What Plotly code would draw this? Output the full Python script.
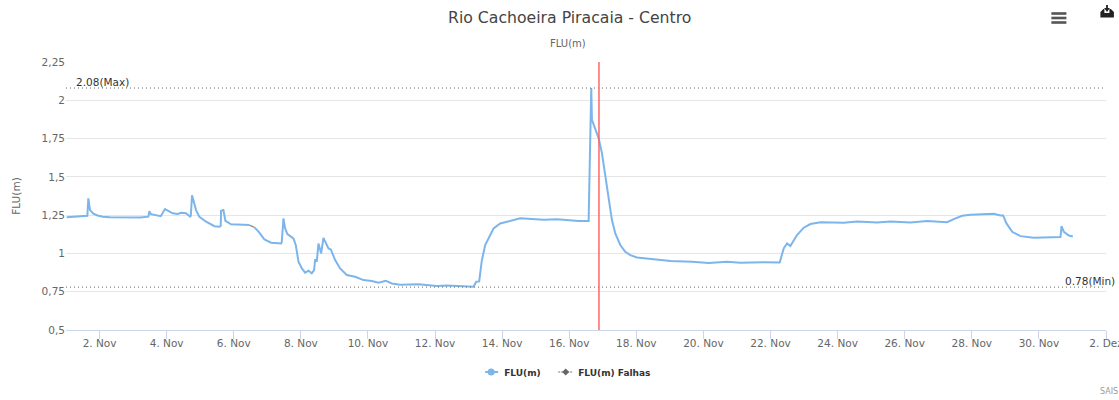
import pandas as pd
import plotly.graph_objects as go

# Day position within the month of November (day 31 = 1 Dec)
days_a = [1.02,1.636,1.666,1.716,1.815,1.94,2.094,2.312,3.207,3.455,3.485,3.535,3.823,3.883,3.952,4.18,4.33,4.43,4.579,4.698,4.72,4.757,4.877,4.976,5.176,5.424,5.573,5.612,5.622,5.692,5.752,5.92,6.467]
flu_a = [1.237,1.246,1.36,1.283,1.26,1.248,1.24,1.237,1.235,1.24,1.276,1.256,1.243,1.27,1.29,1.262,1.258,1.265,1.263,1.24,1.245,1.38,1.283,1.239,1.207,1.178,1.174,1.18,1.278,1.283,1.213,1.19,1.185]
days_b = [6.617,6.746,6.915,7.114,7.412,7.432,7.481,7.531,7.6,7.78,7.85,7.93,8.03,8.127,8.227,8.326,8.396,8.426,8.476,8.525,8.605,8.674,8.823,8.893,9.022,9.171,9.37,9.619,9.867,10.115,10.314,10.533,10.712,10.96,11.507,12.054,12.352,13.147,13.227,13.316,13.396,13.495,13.744,13.942,14.54,15.236,15.634,16.28,16.578,16.657,16.677,16.776,16.876,16.975,17.075,17.174,17.273,17.373,17.522,17.671,17.82,18.019,18.417,19.014,19.66,20.157,20.703,21.101,21.797,22.274,22.393,22.493,22.592,22.791,22.99,23.189,23.487,24.183,24.58,25.177,25.574,26.171,26.668,27.264,27.463,27.712,27.96,28.656,28.855,28.934,29.034,29.203,29.451,29.849,30.644,30.674,30.744,30.893,31.012]
flu_b = [1.17,1.141,1.091,1.07,1.065,1.076,1.228,1.163,1.126,1.098,1.054,0.946,0.902,0.874,0.887,0.87,0.891,0.961,0.946,1.065,1.0,1.102,1.033,1.026,0.957,0.902,0.859,0.848,0.826,0.82,0.809,0.822,0.804,0.796,0.798,0.787,0.791,0.783,0.815,0.817,0.956,1.054,1.163,1.196,1.229,1.22,1.223,1.212,1.212,2.08,1.873,1.819,1.753,1.655,1.502,1.349,1.218,1.131,1.055,1.011,0.989,0.974,0.963,0.95,0.945,0.937,0.945,0.939,0.943,0.941,1.033,1.065,1.048,1.12,1.168,1.192,1.203,1.2,1.209,1.202,1.209,1.202,1.211,1.204,1.224,1.246,1.252,1.259,1.248,1.248,1.196,1.141,1.113,1.102,1.107,1.178,1.141,1.117,1.111]
days_falhas = [6.467, 6.617]
flu_falhas = [1.185, 1.17]

y_ticks = [0.5, 0.75, 1, 1.25, 1.5, 1.75, 2, 2.25]
y_labels = ["0,5", "0,75", "1", "1,25", "1,5", "1,75", "2", "2,25"]
x_tick_days = [2,4,6,8,10,12,14,16,18,20,22,24,26,28,30,32]
x_labels = ["2. Nov","4. Nov","6. Nov","8. Nov","10. Nov","12. Nov","14. Nov","16. Nov","18. Nov","20. Nov","22. Nov","24. Nov","26. Nov","28. Nov","30. Nov","2. Dez"]
max_value = 2.08
min_value = 0.78
marker_day = 16.887

START = pd.Timestamp("2018-10-31")
def to_dates(days):
    return [START + pd.Timedelta(days=float(d)) for d in days]

FONT = "DejaVu Sans"
W, H = 1119, 400
L, R, T, B = 66, 1105.6, 62, 330
def px(x): return (x - L) / (R - L)
def py(y): return (B - y) / (B - T)

fig = go.Figure()
fig.add_trace(go.Scatter(x=to_dates(days_a) + [None] + to_dates(days_b), y=flu_a + [None] + flu_b,
                         mode="lines", line=dict(color="#7cb5ec", width=2), showlegend=False, connectgaps=False))
fig.add_trace(go.Scatter(x=to_dates(days_falhas), y=flu_falhas, mode="lines", showlegend=False,
                         line=dict(color="#a08a80", width=1.5)))
# real legend entries, one legend each so they sit where the reference has them
for nm, lg in (("FLU(m)", "legend"), ("FLU(m) Falhas", "legend2")):
    fig.add_trace(go.Scatter(x=[None], y=[None], mode="lines", name=nm, legend=lg,
                             line=dict(color="rgba(0,0,0,0)", width=1)))

x0, x1 = START + pd.Timedelta(days=1), START + pd.Timedelta(days=32)
DOT = "1px,3px"
shapes = [
    dict(type="line", xref="x", yref="y", x0=x0, x1=x1, y0=max_value, y1=max_value,
         line=dict(color="#666666", width=1, dash=DOT)),
    dict(type="line", xref="x", yref="y", x0=x0, x1=x1, y0=min_value, y1=min_value,
         line=dict(color="#666666", width=1, dash=DOT)),
    dict(type="line", xref="x", yref="paper", x0=to_dates([marker_day])[0], x1=to_dates([marker_day])[0], y0=0, y1=1,
         line=dict(color="#ff6666", width=1.5)),
]
for yy in (13.5, 18, 22.5):
    shapes.append(dict(type="line", xref="paper", yref="paper", x0=px(1051), x1=px(1066), y0=py(yy), y1=py(yy),
                       line=dict(color="#555555", width=2.6)))
def pth(points):
    return "M" + " L".join(f"{px(a):.5f},{py(b):.5f}" for a, b in points) + " Z"
shapes.append(dict(type="path", xref="paper", yref="paper", line=dict(width=0), fillcolor="#222222",
                   path=pth([(1100,17.5),(1100,12),(1103,9),(1104,9),(1104,13),(1109,13),(1109,9),(1110.5,9),(1113.5,12),(1113.5,17.5)])))
shapes.append(dict(type="path", xref="paper", yref="paper", line=dict(width=0), fillcolor="#222222",
                   path=pth([(1105.7,5),(1107.5,5),(1107.5,8),(1109.5,8),(1106.6,12),(1103.7,8),(1105.7,8)])))
LEG_Y = 372
shapes += [
    dict(type="line", xref="paper", yref="paper", x0=px(485), x1=px(498), y0=py(LEG_Y), y1=py(LEG_Y),
         line=dict(color="#7cb5ec", width=2)),
    dict(type="circle", xref="paper", yref="paper", x0=px(487.5), x1=px(494.5), y0=py(LEG_Y+3.5), y1=py(LEG_Y-3.5),
         line=dict(width=0), fillcolor="#7cb5ec"),
    dict(type="line", xref="paper", yref="paper", x0=px(558), x1=px(573), y0=py(LEG_Y), y1=py(LEG_Y),
         line=dict(color="#777777", width=1, dash="2px,1px")),
    dict(type="path", xref="paper", yref="paper", line=dict(width=0), fillcolor="#666666",
         path=pth([(565.5,LEG_Y-3.5),(569,LEG_Y),(565.5,LEG_Y+3.5),(562,LEG_Y)])),
]

def note(text, x, y, size, color, xanchor="center"):
    return dict(text=text, xref="paper", yref="paper", x=px(x), y=py(y), xanchor=xanchor, yanchor="middle",
                showarrow=False, font=dict(family=FONT, size=size, color=color))
anns = [
    note("Rio Cachoeira Piracaia - Centro", 569, 18, 15.7, "#444444"),
    note("FLU(m)", 568, 43, 10, "#666666"),
    note("2.08(Max)", 74, 82, 10.5, "#333333", "left"),
    note("0.78(Min)", 1063, 281, 10.5, "#333333", "left"),
    note("SAIS", 1120, 391, 8, "#999999", "right"),
]

leg_font = dict(family=FONT, size=9, color="#333333", weight="bold")
fig.update_layout(
    width=W, height=H, autosize=False,
    margin=dict(l=L, r=W - R, t=T, b=H - B, autoexpand=False),
    paper_bgcolor="white", plot_bgcolor="white",
    font=dict(family=FONT, size=10.5, color="#666666"),
    shapes=shapes, annotations=anns,
    showlegend=True,
    legend=dict(x=px(464), xanchor="left", y=py(LEG_Y), yanchor="middle", font=leg_font, bgcolor="rgba(0,0,0,0)"),
    legend2=dict(x=px(538), xanchor="left", y=py(LEG_Y), yanchor="middle", font=leg_font, bgcolor="rgba(0,0,0,0)"),
    xaxis=dict(range=[x0, x1], tickmode="array", tickvals=to_dates(x_tick_days), ticktext=x_labels,
               showgrid=False, showline=True, linecolor="#ccd6eb", linewidth=1, ticks="outside",
               ticklen=8, tickcolor="#ccd6eb", tickfont=dict(size=10.5, color="#666666"),
               ticklabeloverflow="allow", ticklabelstandoff=-5),
    yaxis=dict(range=[0.5, 2.25], tickmode="array", tickvals=y_ticks, ticktext=y_labels,
               showgrid=True, gridcolor="#e6e6e6", gridwidth=1, zeroline=False, showline=False,
               title=dict(text="FLU(m)", font=dict(size=10.5, color="#666666"), standoff=18),
               tickfont=dict(size=10.5, color="#666666")),
)
fig.write_html("out.html", config=dict(displayModeBar=False),
               post_script="document.body.style.margin='0';document.documentElement.style.overflow='hidden';")
